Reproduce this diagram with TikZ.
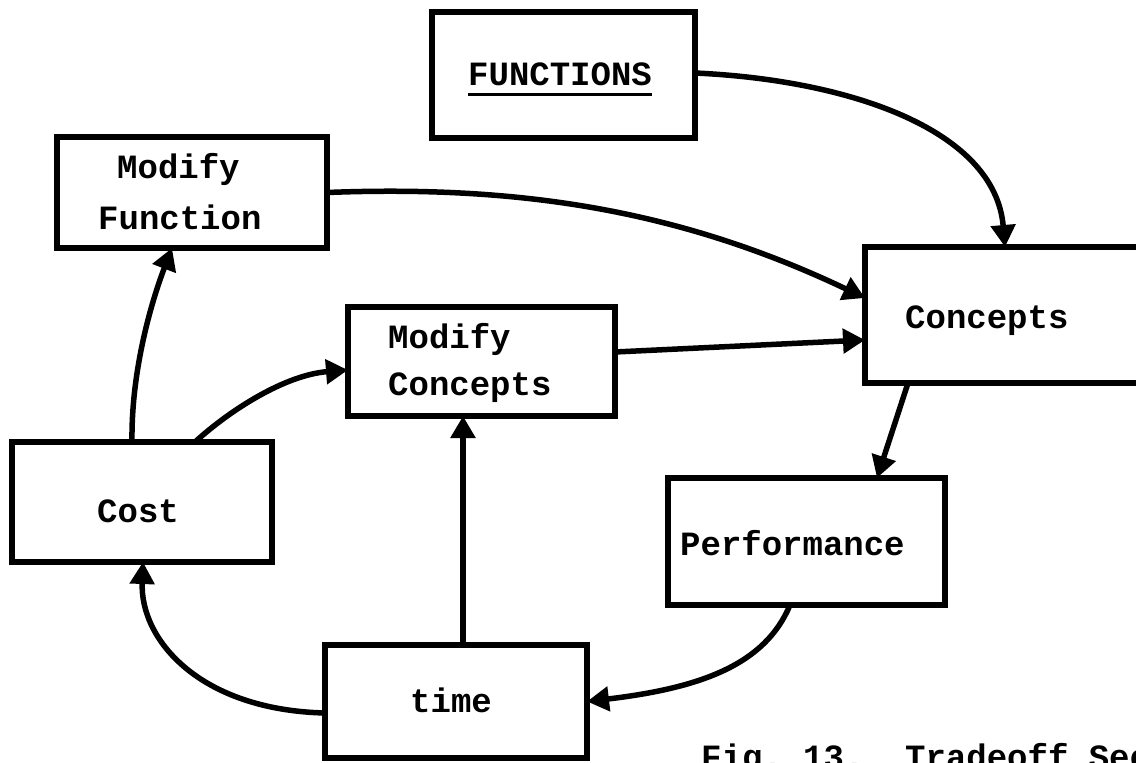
\documentclass[tikz,border=0pt]{standalone}
\usepackage{fontspec}
\setmonofont{Liberation Mono}
\usetikzlibrary{arrows.meta,calc}
\begin{document}
\begin{tikzpicture}[x=1pt,y=1pt,
  box/.style={draw, line width=5.5pt, rectangle, inner sep=0pt, outer sep=0pt},
  lbl/.style={anchor=base west, inner sep=0pt, font=\ttfamily\bfseries\fontsize{34}{38}\selectfont},
  conn/.style={line width=5.5pt, -{Triangle[length=22pt,width=24pt]}},
]
\useasboundingbox (0,0) rectangle (1136,-763);
\clip (0,0) rectangle (1136,-763);
\fill[white] (0,0) rectangle (1136,-763);

% boxes
\node[box, minimum width=263, minimum height=126] (fun)  at (563.5,-75) {};
\node[box, minimum width=270, minimum height=111] (modf) at (192,-192.5) {};
\node[box, minimum width=295, minimum height=136] (conc) at (1012.5,-315) {};
\node[box, minimum width=267, minimum height=109] (modc) at (481.5,-361.5) {};
\node[box, minimum width=260, minimum height=120] (cost) at (142,-502) {};
\node[box, minimum width=277, minimum height=127] (perf) at (806.5,-541.5) {};
\node[box, minimum width=262, minimum height=113] (time) at (456,-701.5) {};

% labels
\node[lbl] (tfun) at (468,-85) {FUNCTIONS};
\draw[line width=3pt] ([yshift=-9pt]tfun.base west) -- ([yshift=-9pt]tfun.base east);
\node[lbl] (tmodf1) at (117,-178) {Modify};
\node[lbl] (tmodf2) at (98,-229) {Function};
\node[lbl] (tmodc1) at (388,-348) {Modify};
\node[lbl] (tmodc2) at (388,-395) {Concepts};
\node[lbl] (tconc) at (905,-328) {Concepts};
\node[lbl] (tcost) at (97,-522) {Cost};
\node[lbl] (tperf) at (680,-555) {Performance};
\node[lbl] (ttime) at (410,-712) {time};
\node[lbl] (cap) at (701,-768) {Fig.~13.~~Tradeoff Sec};

% connectors
\draw[conn] ([yshift=2pt]fun.east) .. controls (850,-80) and (995,-130) .. ([xshift=-7.5pt]conc.north);
\draw[conn] (modf.east) .. controls (520,-185) and (680,-210) .. ([yshift=-25pt]conc.north west |- 0,-273);
\draw[conn] ([yshift=9.5pt]modc.east) -- ([yshift=-25pt]conc.west);
\draw[conn] ([xshift=-104.5pt]conc.south) -- ([xshift=70.5pt]perf.north);
\draw[conn] ([xshift=-16.5pt]perf.south) .. controls (765,-665) and (700,-688) .. (time.east);
\draw[conn] ([xshift=7pt]time.north) -- ([xshift=7pt]time.north |- modc.south);
\draw[conn] ([yshift=-11.5pt]time.west) .. controls (200,-710) and (140,-640) .. ([xshift=1pt]cost.south);
\draw[conn] ([xshift=-10pt]cost.north) .. controls (131,-370) and (152,-300) .. ([xshift=-20pt]modf.south);
\draw[conn] ([xshift=53pt]cost.north) .. controls (230,-410) and (285,-375) .. ([yshift=-8.5pt]modc.west);
\end{tikzpicture}
\end{document}
